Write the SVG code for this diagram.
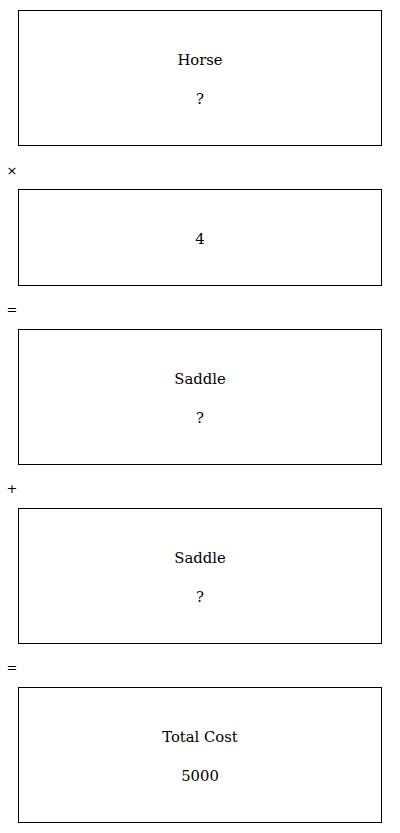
<svg xmlns="http://www.w3.org/2000/svg" width="400" height="833" viewBox="0 0 400 833">
<style>
.box{fill:#fff;stroke:#000;stroke-width:1}
.t{font-family:"DejaVu Serif","Liberation Serif",serif;font-size:14.8px;text-anchor:middle;fill:#000}
.op{font-family:"DejaVu Sans","Liberation Sans",sans-serif;font-size:13px;text-anchor:middle;fill:#000}
</style>
<rect width="400" height="833" fill="#fff"/>
<g id="horse"><rect class="box" x="18.5" y="10.5" width="363" height="135"/><text class="t" x="200" y="65">Horse</text><text class="t" x="200" y="104">?</text></g>
<g id="four"><rect class="box" x="18.5" y="189.5" width="363" height="96"/><text class="t" x="200" y="244">4</text></g>
<g id="saddle1"><rect class="box" x="18.5" y="329.5" width="363" height="135"/><text class="t" x="200" y="384">Saddle</text><text class="t" x="200" y="423">?</text></g>
<g id="saddle2"><rect class="box" x="18.5" y="508.5" width="363" height="135"/><text class="t" x="200" y="563">Saddle</text><text class="t" x="200" y="602">?</text></g>
<g id="total"><rect class="box" x="18.5" y="687.5" width="363" height="135"/><text class="t" x="200" y="742">Total Cost</text><text class="t" x="200" y="781">5000</text></g>
<g id="operators">
<text class="op" x="12" y="175">×</text>
<text class="op" x="12" y="314">=</text>
<text class="op" x="12" y="493">+</text>
<text class="op" x="12" y="672">=</text>
</g>
</svg>
